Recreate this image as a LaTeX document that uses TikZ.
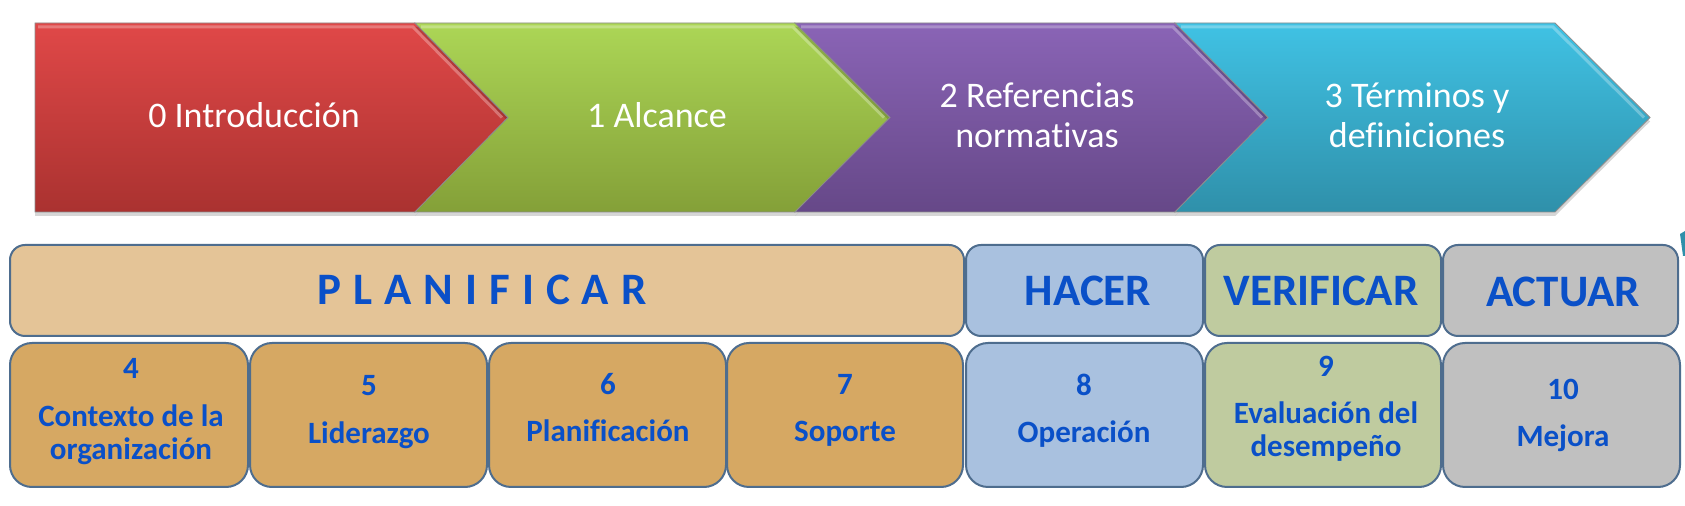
\documentclass[tikz,border=0pt]{standalone}
\usepackage{fontspec}
\setmainfont{Carlito}[Ligatures=NoCommon]
\definecolor{redT}{HTML}{E04848}
\definecolor{redB}{HTML}{AA3230}
\definecolor{grnT}{HTML}{ACD656}
\definecolor{grnB}{HTML}{84A038}
\definecolor{purT}{HTML}{8A64B6}
\definecolor{purB}{HTML}{664888}
\definecolor{bluT}{HTML}{40C2E4}
\definecolor{bluB}{HTML}{2F90AA}
\definecolor{planfill}{HTML}{E4C497}
\definecolor{boxtan}{HTML}{D6A863}
\definecolor{hacerfill}{HTML}{A9C1DF}
\definecolor{veriffill}{HTML}{BFCB9F}
\definecolor{actfill}{HTML}{C0C0C0}
\definecolor{boxline}{HTML}{4E6D8E}
\definecolor{txtblue}{HTML}{0A50C8}
\begin{document}
\begin{tikzpicture}[x=0.5pt,y=-0.5pt,
  chev/.style={draw=black!45,line width=0.4pt,
    preaction={fill=black,opacity=0.16,transform canvas={yshift=-2pt}}},
  hilite/.style={draw=white,opacity=0.28,line width=1.5pt},
  arrowtext/.style={text=white,font=\fontsize{18}{20}\selectfont,anchor=base,inner sep=0pt},
  headbox/.style={draw=boxline,line width=1pt,rounded corners=7.5pt,minimum height=45.5pt,inner sep=0pt},
  itembox/.style={draw=boxline,line width=1pt,rounded corners=11pt,minimum height=72pt,inner sep=0pt},
  headtext/.style={text=txtblue,font=\bfseries\fontsize{22.5}{24}\selectfont,anchor=base,inner sep=0pt},
  itemtext/.style={text=txtblue,font=\bfseries\fontsize{15.5}{16}\selectfont,anchor=base,inner sep=0pt}]
\useasboundingbox (0,0) rectangle (1685,506);
\fill[white] (0,0) rectangle (1685,506);

% ---- chevrons ----
\path[chev,top color=redT,bottom color=redB]
  (35,23) -- (415,23) -- (508,117.5) -- (415,212) -- (35,212) -- cycle;
\path[chev,top color=grnT,bottom color=grnB]
  (415,23) -- (795,23) -- (890,117.5) -- (795,212) -- (415,212) -- (508,117.5) -- cycle;
\path[chev,top color=purT,bottom color=purB]
  (795,23) -- (1175,23) -- (1268,117.5) -- (1175,212) -- (795,212) -- (890,117.5) -- cycle;
\path[chev,top color=bluT,bottom color=bluB]
  (1175,23) -- (1555,23) -- (1650,117.5) -- (1555,212) -- (1175,212) -- (1268,117.5) -- cycle;
\draw[hilite] (38,27) -- (413,27) -- (502,117.5);
\draw[hilite] (421,27) -- (793,27) -- (884,117.5);
\draw[hilite] (801,27) -- (1173,27) -- (1262,117.5);
\draw[hilite] (1181,27) -- (1553,27) -- (1644,117.5);

\node[arrowtext] (t0) at (254,128) {0 Introducción};
\node[arrowtext] (t1) at (657,128) {1 Alcance};
\node[arrowtext] (t2a) at (1037,108) {2 Referencias};
\node[arrowtext] (t2b) at (1037,148) {normativas};
\node[arrowtext] (t3a) at (1417,108) {3 Términos y};
\node[arrowtext] (t3b) at (1417,148) {definiciones};

% ---- header row ----
\node[headbox,fill=planfill,minimum width=477pt] (hp) at (487,290.5) {};
\node[headbox,fill=hacerfill,minimum width=118.5pt] (hh) at (1084.5,290.5) {};
\node[headbox,fill=veriffill,minimum width=118pt] (hv) at (1323,290.5) {};
\node[headbox,fill=actfill,minimum width=117.5pt] (ha) at (1560.5,290.5) {};

\node[headtext] (hpt) at (482,305) {P\kern6pt L\kern6pt A\kern6pt N\kern6pt I\kern6pt F\kern6pt I\kern6pt C\kern6pt A\kern6pt R};
\node[headtext] (hht) at (1088,306) {HACER};
\node[headtext] (hvt) at (1321,306) {VERIFICAR};
\node[headtext] (hat) at (1563,307) {ACTUAR};

% ---- item row ----
\node[itembox,fill=boxtan,minimum width=119pt] (b4) at (129,415) {};
\node[itembox,fill=boxtan,minimum width=118.5pt] (b5) at (368.5,415) {};
\node[itembox,fill=boxtan,minimum width=118.5pt] (b6) at (607.5,415) {};
\node[itembox,fill=boxtan,minimum width=118pt] (b7) at (845,415) {};
\node[itembox,fill=hacerfill,minimum width=118.5pt] (b8) at (1084.5,415) {};
\node[itembox,fill=veriffill,minimum width=118pt] (b9) at (1323,415) {};
\node[itembox,fill=actfill,minimum width=118.5pt] (b10) at (1561.5,415) {};

\node[itemtext] (b4n) at (131,379) {4};
\node[itemtext] (b4a) at (131,427) {Contexto de la};
\node[itemtext] (b4b) at (131,460) {organización};
\node[itemtext] (b5n) at (369,396) {5};
\node[itemtext] (b5a) at (369,444) {Liderazgo};
\node[itemtext] (b6n) at (608,395) {6};
\node[itemtext] (b6a) at (608,442) {Planificación};
\node[itemtext] (b7n) at (845,395) {7};
\node[itemtext] (b7a) at (845,442) {Soporte};
\node[itemtext] (b8n) at (1084,396) {8};
\node[itemtext] (b8a) at (1084,443) {Operación};
\node[itemtext] (b9n) at (1326,377) {9};
\node[itemtext] (b9a) at (1326,424) {Evaluación del};
\node[itemtext] (b9b) at (1326,457) {desempeño};
\node[itemtext] (b10n) at (1563,400) {10};
\node[itemtext] (b10a) at (1563,447) {Mejora};

% small cyan remnant at the right edge
\fill[bluB] (1680,234) -- (1685,231) -- (1685,256) -- (1683,256) -- cycle;
\end{tikzpicture}
\end{document}
